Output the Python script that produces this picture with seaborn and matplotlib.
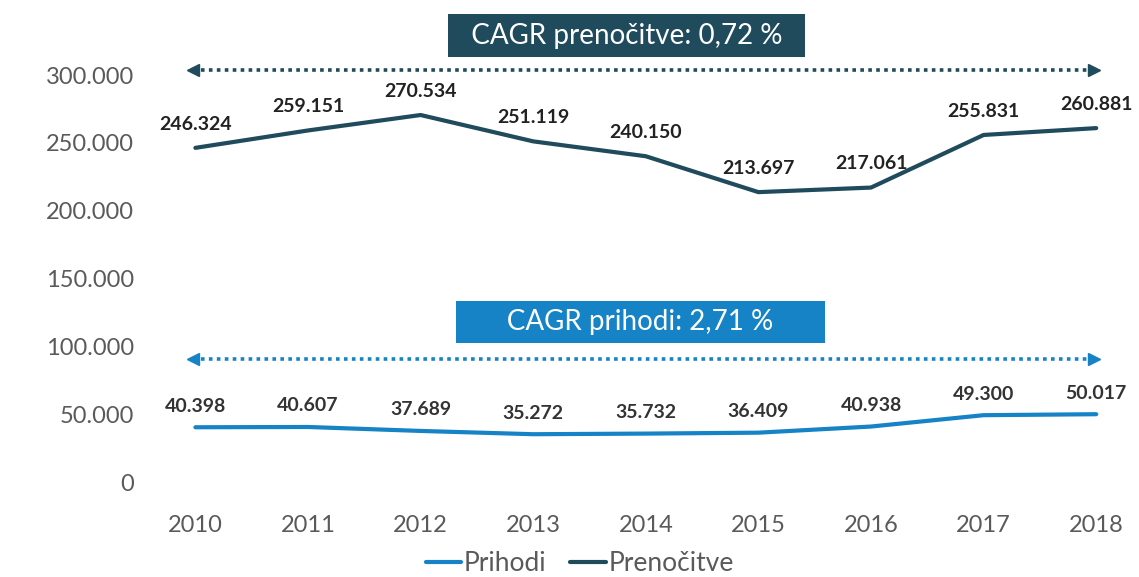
import pandas as pd
import numpy as np
import matplotlib.pyplot as plt
import matplotlib.ticker as mticker
from matplotlib.lines import Line2D
import seaborn as sns

DARK = "#1f4b5c"
BLUE = "#1583c6"
GREY = "#5a5a5a"

years = [2010, 2011, 2012, 2013, 2014, 2015, 2016, 2017, 2018]
prenocitve = [246324, 259151, 270534, 251119, 240150, 213697, 217061, 255831, 260881]
prihodi = [40398, 40607, 37689, 35272, 35732, 36409, 40938, 49300, 50017]
series_names = ["Prihodi", "Prenočitve"]
cagr_labels = ["CAGR prihodi: 2,71 %", "CAGR prenočitve: 0,72 %"]

sns.set_theme(style="white")
plt.rcParams["font.family"] = ["Lato", "DejaVu Sans"]

df = pd.DataFrame({
    "year": years * 2,
    "value": prihodi + prenocitve,
    "series": [series_names[0]] * len(years) + [series_names[1]] * len(years),
})

fig = plt.figure(figsize=(11.39, 5.77), dpi=100)
ax = fig.add_axes([0.132, 0.141, 0.868, 0.7995])

sns.lineplot(data=df, x="year", y="value", hue="series",
             palette={"Prihodi": BLUE, "Prenočitve": DARK},
             linewidth=3, ax=ax, legend=False)

def fmt(v):
    return f"{v:,.0f}".replace(",", ".")

for yr, v in zip(years, prenocitve):
    ax.annotate(fmt(v), (yr, v), xytext=(0, 11), textcoords="offset points",
                ha="center", va="bottom", fontsize=14, fontweight="bold", color="#222222")
for yr, v in zip(years, prihodi):
    ax.annotate(fmt(v), (yr, v), xytext=(0, 9), textcoords="offset points",
                ha="center", va="bottom", fontsize=14, fontweight="bold", color="#333333")

ax.set_xlim(2009.6, 2018.38)
ax.set_ylim(-10000, 330000)
ax.set_xticks(years)
ax.set_yticks(np.arange(0, 300001, 50000))
ax.yaxis.set_major_formatter(mticker.FuncFormatter(lambda v, p: fmt(v)))
ax.tick_params(axis="y", labelsize=17, labelcolor=GREY, pad=12, length=0)
ax.tick_params(axis="x", labelsize=17, labelcolor=GREY, pad=14, length=0)
ax.set_xlabel("")
ax.set_ylabel("")
sns.despine(ax=ax, left=True, bottom=True)

# dotted CAGR arrows
for y, c in [(303600, DARK), (90500, BLUE)]:
    x0, x1 = years[0] - 0.02, years[-1] - 0.02
    ax.plot([x0, x1], [y, y], linestyle=(0, (1, 1.2)), color=c, lw=2.6, clip_on=False)
    ax.plot([x0], [y], marker="<", color=c, markersize=8, clip_on=False)
    ax.plot([x1], [y], marker=">", color=c, markersize=8, clip_on=False)

# CAGR boxes (extra spaces widen the box sideways)
ax.text(2013.83, 329000, "  " + cagr_labels[1] + "  ", ha="center", va="center",
        fontsize=20, color="white", clip_on=False,
        bbox=dict(boxstyle="square,pad=0.3", facecolor=DARK, edgecolor="none"))
ax.text(2013.95, 118000, "      " + cagr_labels[0] + "      ", ha="center", va="center",
        fontsize=20, color="white",
        bbox=dict(boxstyle="square,pad=0.3", facecolor=BLUE, edgecolor="none"))

handles = [Line2D([0], [0], color=BLUE, lw=3), Line2D([0], [0], color=DARK, lw=3)]
fig.legend(handles, series_names, loc="lower center", bbox_to_anchor=(0.509, -0.04),
           ncol=2, frameon=False, fontsize=19, handlelength=1.35, handletextpad=0.1,
           columnspacing=0.9, labelcolor=GREY)

fig.savefig("out.png", dpi=100)
